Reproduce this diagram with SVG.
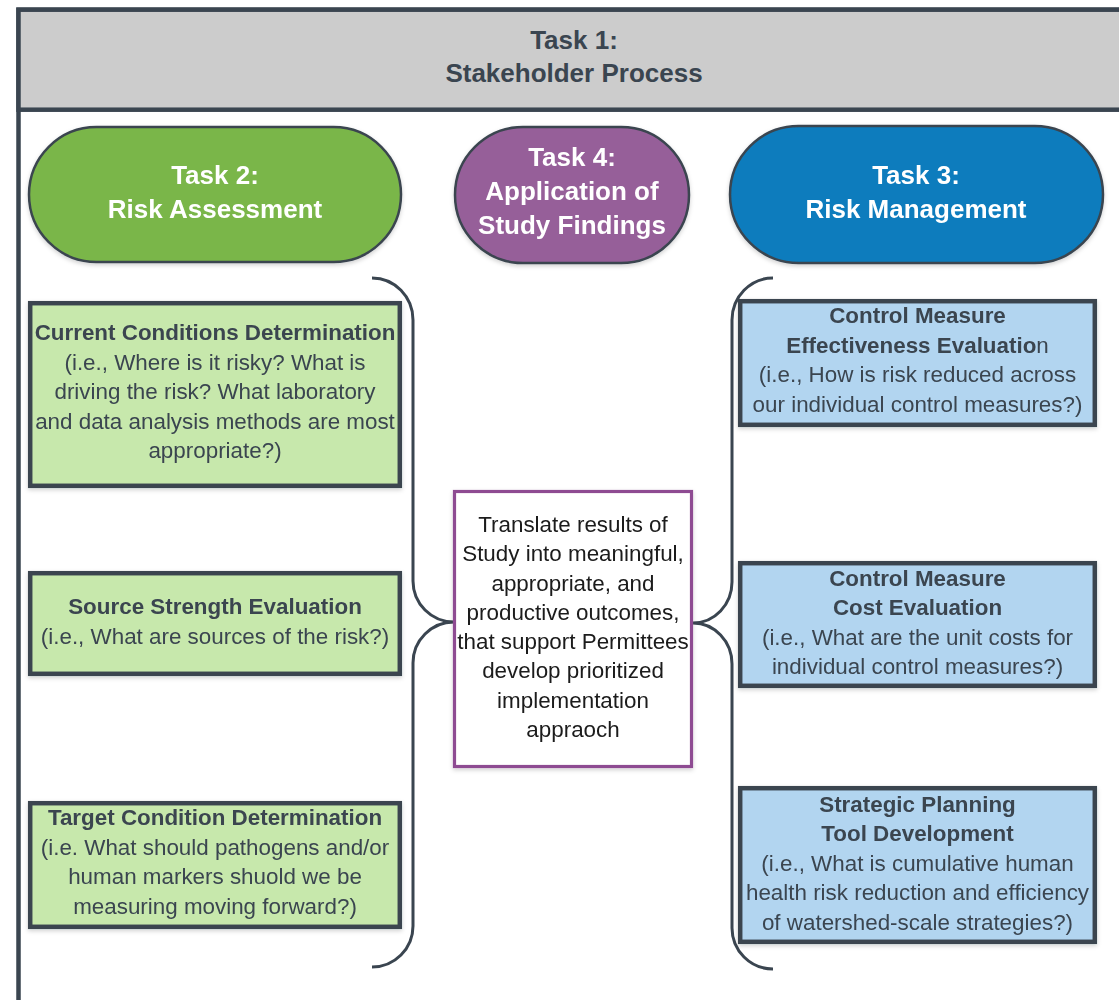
<svg xmlns="http://www.w3.org/2000/svg" width="1119" height="1000" viewBox="0 0 1119 1000">
<defs>
<filter id="sh" x="-10%" y="-10%" width="120%" height="130%">
<feDropShadow dx="0" dy="2" stdDeviation="2" flood-color="#000" flood-opacity="0.18"/>
</filter>
<style>
text{font-family:"Liberation Sans",Arial,sans-serif;text-anchor:middle}
.t{font-size:22.4px;fill:#3a4550}
.b{font-weight:bold}
.task{font-size:26px;font-weight:bold;fill:#ffffff}
.hdr{font-size:26px;font-weight:bold;fill:#3a4550}
.ctr{font-size:22.4px;fill:#1a1a1a}
.pill{stroke:#3a4550;stroke-width:2.5}
.gbox{fill:#c7e8ac;stroke:#3a4550;stroke-width:4.5}
.bbox{fill:#b2d5f0;stroke:#3a4550;stroke-width:4.5}
.brace{fill:none;stroke:#3a4550;stroke-width:3}
</style>
</defs>
<rect x="0" y="0" width="1119" height="1000" fill="#ffffff"/>

<g id="task1">
<rect x="18.5" y="9.7" width="1200" height="1100" fill="#ffffff" stroke="#3a4550" stroke-width="4.5"/>
<rect x="18.5" y="9.7" width="1200" height="100" fill="#cccccc" stroke="#3a4550" stroke-width="4.5"/>
<text class="hdr" x="574" y="49">Task 1:</text>
<text class="hdr" x="574" y="82">Stakeholder Process</text>
</g>

<g id="connectors">
<path class="brace" d="M372,278 A41,42 0 0 1 413,320 L413,581 A41,41 0 0 0 454,622 A41,41 0 0 0 413,663 L413,926 A41,41 0 0 1 372,967"/>
<path class="brace" d="M773,278 A41,42 0 0 0 732,320 L732,582 A39,41 0 0 1 693,623 A39,41 0 0 1 732,664 L732,928 A41,41 0 0 0 773,969"/>
</g>

<g id="task2" filter="url(#sh)">
<rect class="pill" x="29" y="127" width="372" height="135" rx="67.5" fill="#7ab648"/>
<text class="task" x="215" y="183.5">Task 2:</text>
<text class="task" x="215" y="217.5">Risk Assessment</text>
</g>

<g id="task4" filter="url(#sh)">
<rect class="pill" x="455" y="127" width="234" height="136" rx="68" fill="#965f99"/>
<text class="task" x="572" y="165.5">Task 4:</text>
<text class="task" x="572" y="199.5">Application of</text>
<text class="task" x="572" y="233.5">Study Findings</text>
</g>

<g id="task3" filter="url(#sh)">
<rect class="pill" x="730" y="126" width="373" height="137" rx="68.5" fill="#0c7cbd"/>
<text class="task" x="916" y="183.5">Task 3:</text>
<text class="task" x="916" y="217.5">Risk Management</text>
</g>

<g id="current-conditions" filter="url(#sh)">
<rect class="gbox" x="30.2" y="303.2" width="369.6" height="182.6"/>
<text class="t b" x="215" y="340">Current Conditions Determination</text>
<text class="t" x="215" y="369.5">(i.e., Where is it risky? What is</text>
<text class="t" x="215" y="399">driving the risk? What laboratory</text>
<text class="t" x="215" y="428.5">and data analysis methods are most</text>
<text class="t" x="215" y="458">appropriate?)</text>
</g>

<g id="source-strength" filter="url(#sh)">
<rect class="gbox" x="30.2" y="573.2" width="369.6" height="100.6"/>
<text class="t b" x="215" y="614">Source Strength Evaluation</text>
<text class="t" x="215" y="643.5">(i.e., What are sources of the risk?)</text>
</g>

<g id="target-condition" filter="url(#sh)">
<rect class="gbox" x="30.2" y="803.2" width="369.6" height="123.6"/>
<text class="t b" x="215" y="825">Target Condition Determination</text>
<text class="t" x="215" y="854.5">(i.e. What should pathogens and/or</text>
<text class="t" x="215" y="884">human markers shuold we be</text>
<text class="t" x="215" y="913.5">measuring moving forward?)</text>
</g>

<g id="translate" filter="url(#sh)">
<rect x="454.5" y="491.5" width="237" height="275" fill="#ffffff" stroke="#8e4b92" stroke-width="3.2"/>
<text class="ctr" x="573" y="531.5">Translate results of</text>
<text class="ctr" x="573" y="561">Study into meaningful,</text>
<text class="ctr" x="573" y="590.5">appropriate, and</text>
<text class="ctr" x="573" y="619.5">productive outcomes,</text>
<text class="ctr" x="573" y="649">that support Permittees</text>
<text class="ctr" x="573" y="678">develop prioritized</text>
<text class="ctr" x="573" y="707.5">implementation</text>
<text class="ctr" x="573" y="737">appraoch</text>
</g>

<g id="control-effectiveness" filter="url(#sh)">
<rect class="bbox" x="740.2" y="301.2" width="354.6" height="123.6"/>
<text class="t b" x="917.5" y="323">Control Measure</text>
<text class="t" x="917.5" y="352.5"><tspan class="b">Effectiveness Evaluatio</tspan>n</text>
<text class="t" x="917.5" y="382">(i.e., How is risk reduced across</text>
<text class="t" x="917.5" y="411.5">our individual control measures?)</text>
</g>

<g id="control-cost" filter="url(#sh)">
<rect class="bbox" x="740.2" y="563.2" width="354.6" height="122.6"/>
<text class="t b" x="917.5" y="586">Control Measure</text>
<text class="t b" x="917.5" y="615">Cost Evaluation</text>
<text class="t" x="917.5" y="645">(i.e., What are the unit costs for</text>
<text class="t" x="917.5" y="674">individual control measures?)</text>
</g>

<g id="strategic-planning" filter="url(#sh)">
<rect class="bbox" x="740.2" y="788.2" width="354.6" height="153.6"/>
<text class="t b" x="917.5" y="811.5">Strategic Planning</text>
<text class="t b" x="917.5" y="841">Tool Development</text>
<text class="t" x="917.5" y="870.5">(i.e., What is cumulative human</text>
<text class="t" x="917.5" y="900">health risk reduction and efficiency</text>
<text class="t" x="917.5" y="929.5">of watershed-scale strategies?)</text>
</g>
</svg>
